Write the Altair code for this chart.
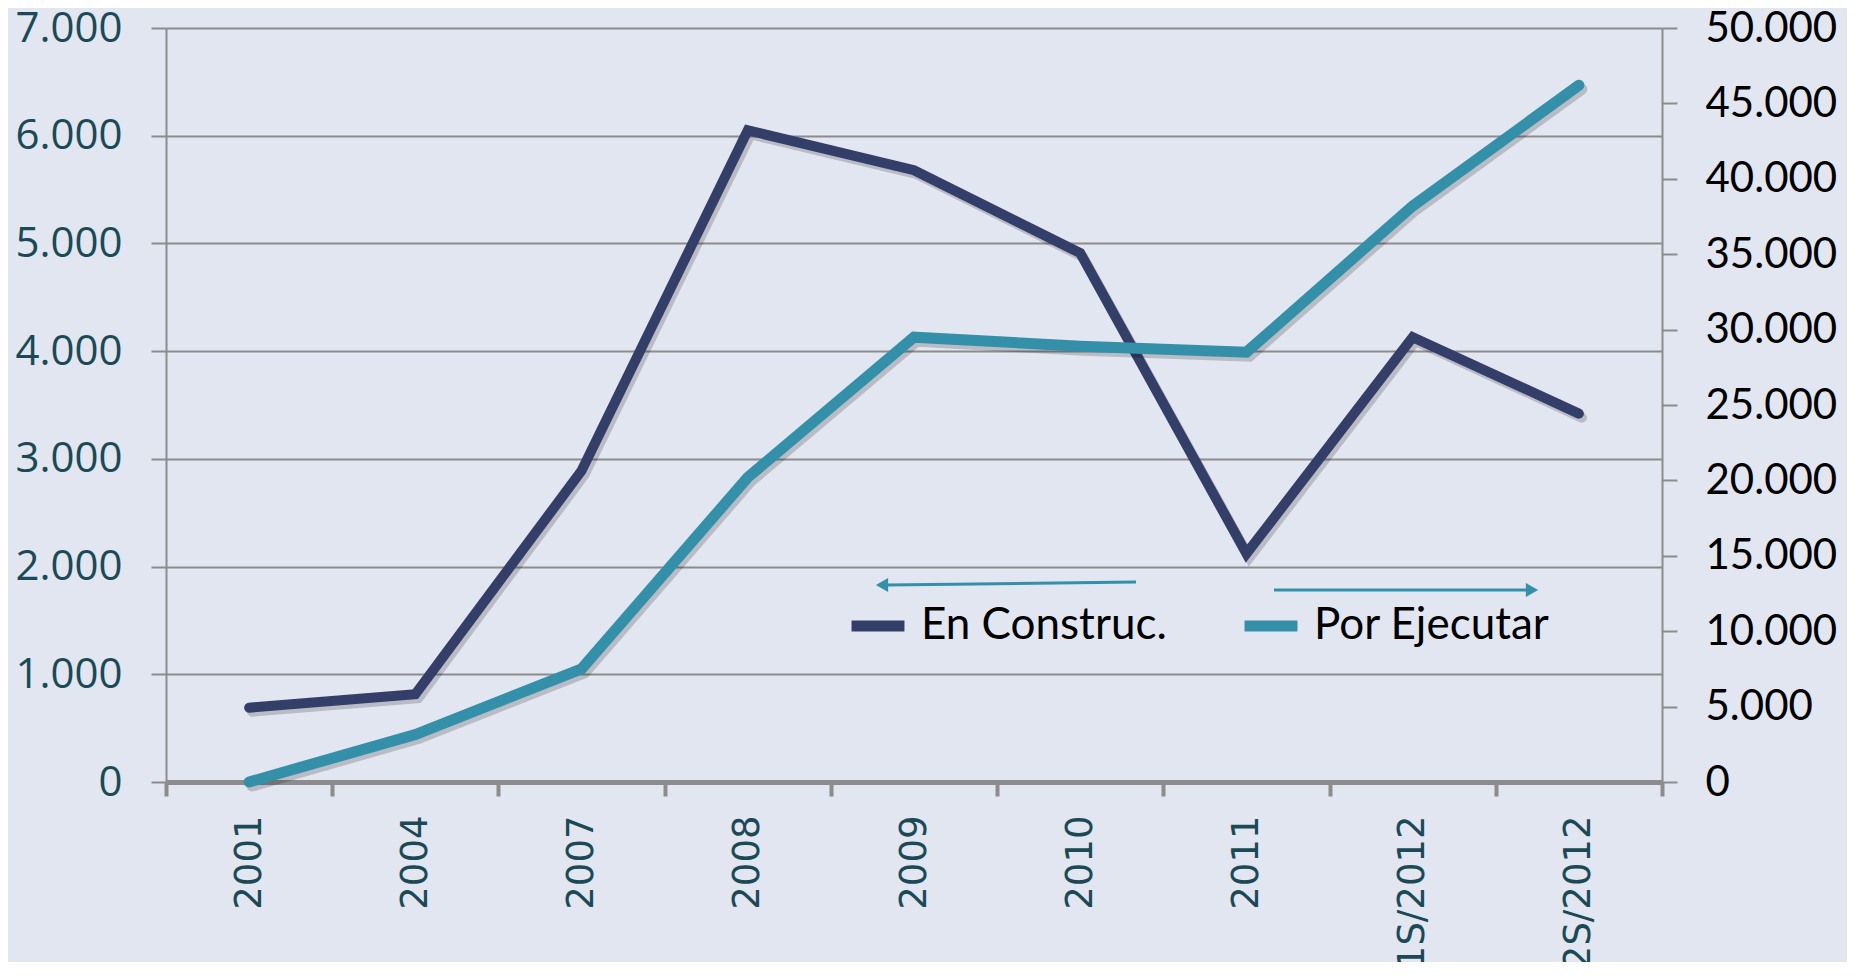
import altair as alt
import pandas as pd

# ---- data ----
categories = ["2001", "2004", "2007", "2008", "2009", "2010", "2011", "1S/2012", "2S/2012"]
en_construc = [690, 815, 2890, 6050, 5680, 4910, 2120, 4130, 3420]
por_ejecutar = [0, 3150, 7500, 20200, 29500, 28900, 28500, 38200, 46200]
left_ticks = [0, 1000, 2000, 3000, 4000, 5000, 6000, 7000]
right_ticks = [0, 5000, 10000, 15000, 20000, 25000, 30000, 35000, 40000, 45000, 50000]
series_names = ["En Construc.", "Por Ejecutar"]
series_colors = ["#343F69", "#3390A8"]

rows = []
for c, v in zip(categories, en_construc):
    rows.append({"cat": c, "serie": series_names[0], "value": v})
for c, v in zip(categories, por_ejecutar):
    rows.append({"cat": c, "serie": series_names[1], "value": v})
df = pd.DataFrame(rows)

GRAY = "#8c8c8c"
TEAL_TXT = "#1b4a56"
label_expr = "replace(format(datum.value, ','), ',', '.')"

x_enc = alt.X(
    "cat:N",
    sort=categories,
    bandPosition=0.5,
    scale=alt.Scale(type="band", paddingInner=0, paddingOuter=0),
    axis=alt.Axis(
        title=None, labelAngle=-90, labelFont="DejaVu Sans", labelFontSize=37,
        labelColor=TEAL_TXT, labelPadding=19, tickBand="extent", tickSize=14,
        tickWidth=4, tickColor=GRAY, domainColor=GRAY, domainWidth=5, grid=False,
    ),
)

y_left = alt.Y(
    "value:Q",
    scale=alt.Scale(domain=[0, 7000], nice=False),
    axis=alt.Axis(
        orient="left", title=None, values=left_ticks, labelExpr=label_expr,
        labelFont="Open Sans", labelFontSize=42, labelColor=TEAL_TXT, labelPadding=29,
        tickSize=15, tickWidth=2, tickColor=GRAY, domainColor=GRAY, domainWidth=2,
        grid=True, gridColor=GRAY, gridWidth=2,
    ),
)

y_right = alt.Y(
    "value:Q",
    scale=alt.Scale(domain=[0, 50000], nice=False),
    axis=alt.Axis(
        orient="right", title=None, values=right_ticks, labelExpr=label_expr,
        labelFont="Lato", labelFontSize=42, labelColor="#000000", labelPadding=28,
        tickSize=15, tickWidth=2, tickColor=GRAY, domainColor=GRAY, domainWidth=2,
        grid=False,
    ),
)

color_enc = alt.Color(
    "serie:N",
    scale=alt.Scale(domain=series_names, range=series_colors),
    legend=alt.Legend(
        title=None, orient="none", legendX=680, legendY=566, direction="horizontal",
        symbolType="stroke", symbolStrokeWidth=11, symbolSize=2800,
        labelFont="Lato", labelFontSize=44, labelColor="#000000", labelOffset=11,
        columnPadding=55, padding=0, labelLimit=500,
    ),
)

base = alt.Chart(df)

teal_shadow = base.transform_filter(alt.datum.serie == series_names[1]).mark_line(
    strokeWidth=11, color="#000000", opacity=0.18, xOffset=3, yOffset=4, strokeCap="round"
).encode(x=x_enc, y=y_right)
teal_line = base.transform_filter(alt.datum.serie == series_names[1]).mark_line(
    strokeWidth=11, strokeCap="round"
).encode(x=x_enc, y=y_right, color=color_enc)

navy_shadow = base.transform_filter(alt.datum.serie == series_names[0]).mark_line(
    strokeWidth=10, color="#000000", opacity=0.18, xOffset=3, yOffset=4, strokeCap="round"
).encode(x=x_enc, y=y_left)
navy_line = base.transform_filter(alt.datum.serie == series_names[0]).mark_line(
    strokeWidth=10, strokeCap="round"
).encode(x=x_enc, y=y_left, color=color_enc)

# annotation arrows (left -> left axis, right -> right axis)
arrow_df = pd.DataFrame({"a": [0]})
arr = alt.Chart(arrow_df)
left_arrow_line = arr.mark_rule(color="#3390A8", strokeWidth=3).encode(
    x=alt.value(722), x2=alt.value(970), y=alt.value(557), y2=alt.value(554)
)
left_arrow_head = arr.mark_point(shape="triangle-left", filled=True, color="#3390A8", size=200, opacity=1).encode(
    x=alt.value(716), y=alt.value(557)
)
right_arrow_line = arr.mark_rule(color="#3390A8", strokeWidth=3).encode(
    x=alt.value(1108), x2=alt.value(1360), y=alt.value(562), y2=alt.value(562)
)
right_arrow_head = arr.mark_point(shape="triangle-right", filled=True, color="#3390A8", size=200, opacity=1).encode(
    x=alt.value(1366), y=alt.value(562)
)

chart = alt.layer(
    alt.layer(navy_shadow, navy_line),
    alt.layer(teal_shadow, teal_line),
).resolve_scale(y="independent")

chart = alt.layer(
    chart, left_arrow_line, left_arrow_head, right_arrow_line, right_arrow_head
).resolve_scale(y="independent").properties(
    width=1496,
    height=754,
    autosize=alt.AutoSizeParams(type="none"),
    padding={"left": 158, "top": 20, "right": 185, "bottom": 180},
    background="#e2e6f1",
).configure_view(stroke=None)

chart.save("out.html", embed_options={"renderer": "svg", "actions": False})
